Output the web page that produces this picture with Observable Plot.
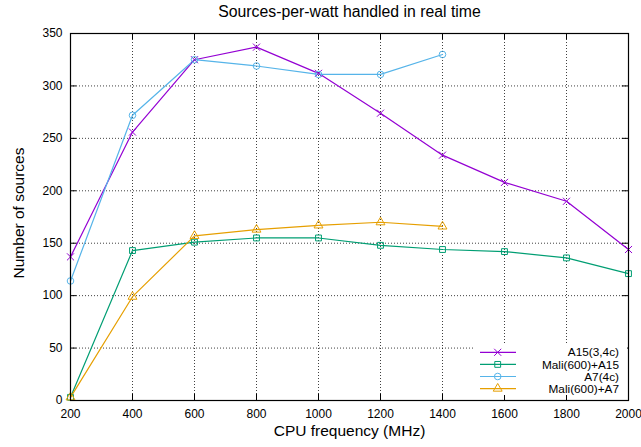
<!DOCTYPE html>
<html><head><meta charset="utf-8">
<script src="https://cdn.jsdelivr.net/npm/d3@7"></script>
<script src="https://cdn.jsdelivr.net/npm/@observablehq/plot@0.6"></script>
<style>body{margin:0;background:#fff;} #chart{position:relative;width:641px;height:447px;}</style>
</head><body><div id="chart"></div>
<script>
const title = "Sources-per-watt handled in real time";
const xLabel = "CPU frequency (MHz)";
const yLabel = "Number of sources";
const xTicks = [200, 400, 600, 800, 1000, 1200, 1400, 1600, 1800, 2000];
const yTicks = [0, 50, 100, 150, 200, 250, 300, 350];

const freqLong = [200, 400, 600, 800, 1000, 1200, 1400, 1600, 1800, 2000];
const freqShort = [200, 400, 600, 800, 1000, 1200, 1400];
const a15 = [137, 256, 325, 337, 312, 274, 234, 208, 190, 144];
const maliA15 = [3, 143, 151, 155, 155, 148, 144, 142, 136, 121];
const a7 = [114, 272, 325, 319, 311, 311, 330];
const maliA7 = [3, 99, 157, 163, 167, 170, 166];

const seriesNames = ["A15(3,4c)", "Mali(600)+A15", "A7(4c)", "Mali(600)+A7"];
const seriesColors = ["#9400d3", "#009e73", "#56b4e9", "#e69f00"];
const seriesSymbols = ["times", "square", "circle", "triangle"];
const seriesX = [freqLong, freqLong, freqShort, freqShort];
const seriesY = [a15, maliA15, a7, maliA7];

const data = [];
seriesNames.forEach((name, i) => {
  seriesX[i].forEach((f, j) => data.push({series: name, freq: f, value: seriesY[i][j]}));
});

const color = {domain: seriesNames, range: seriesColors};
const symbol = {domain: seriesNames, range: seriesSymbols};
const fmt = d => String(d);

const svg = Plot.plot({
  width: 641, height: 447,
  marginLeft: 70, marginRight: 13, marginTop: 33, marginBottom: 47,
  style: {fontFamily: "'Liberation Sans', Arial, sans-serif", fontSize: "12px", background: "#fff", color: "#000"},
  x: {domain: [200, 2000], axis: null},
  y: {domain: [0, 350], axis: null},
  color, symbol,
  marks: [
    Plot.gridX(xTicks.slice(1, -1), {stroke: "#000", strokeOpacity: 0.75, strokeDasharray: "1,2"}),
    Plot.gridY(yTicks.slice(1, -1), {stroke: "#000", strokeOpacity: 0.75, strokeDasharray: "1,2"}),
    Plot.axisX(xTicks, {tickSize: 0, tickPadding: 9, fontSize: 12, label: null, tickFormat: fmt}),
    Plot.axisY(yTicks, {tickSize: 0, tickPadding: 8, fontSize: 12, label: null, tickFormat: fmt}),
    Plot.line(data, {x: "freq", y: "value", z: "series", stroke: "series", strokeWidth: 1.2}),
    Plot.dot(data, {x: "freq", y: "value", stroke: "series", symbol: "series", r: 3.3, strokeWidth: 1, fill: "none"}),
    Plot.ruleX(xTicks, {y1: 0, y2: 6, stroke: "#000", ariaLabel: "ticks"}),
    Plot.ruleX(xTicks, {y1: 344, y2: 350, stroke: "#000", ariaLabel: "ticks"}),
    Plot.ruleY(yTicks, {x1: 200, x2: 220, stroke: "#000", ariaLabel: "ticks"}),
    Plot.ruleY(yTicks, {x1: 1980, x2: 2000, stroke: "#000", ariaLabel: "ticks"}),
    Plot.frame({stroke: "#000", strokeWidth: 1.2}),
    Plot.text([title], {text: d => d, frameAnchor: "top", lineAnchor: "middle", textAnchor: "middle", dy: -21.5, fontSize: 15.8}),
    Plot.text([xLabel], {text: d => d, frameAnchor: "bottom", lineAnchor: "middle", textAnchor: "middle", dy: 31, fontSize: 15.5}),
    Plot.text([yLabel], {text: d => d, frameAnchor: "left", lineAnchor: "middle", textAnchor: "middle", rotate: -90, dx: -51, dy: -4, fontSize: 15.5})
  ]
});
document.getElementById("chart").appendChild(svg);

// legend
const lg = d3.select(svg).append("g").attr("font-family", "'Liberation Sans', Arial, sans-serif").attr("font-size", 11.8);
lg.append("rect").attr("x", 474).attr("y", 343).attr("width", 153).attr("height", 52).attr("fill", "#fff");
const symGen = {times: d3.symbolTimes, square: d3.symbolSquare, circle: d3.symbolCircle, triangle: d3.symbolTriangle};
seriesNames.forEach((name, i) => {
  const y = 352.3 + i * 12.1;
  lg.append("line").attr("x1", 480).attr("x2", 516).attr("y1", y).attr("y2", y).attr("stroke", seriesColors[i]).attr("stroke-width", 1.2);
  lg.append("path").attr("transform", `translate(497.7,${y})`)
    .attr("d", d3.symbol(symGen[seriesSymbols[i]], Math.PI * 3.3 * 3.3)())
    .attr("fill", "none").attr("stroke", seriesColors[i]);
  lg.append("text").attr("x", 619).attr("y", y).attr("dy", "0.35em").attr("text-anchor", "end").text(name);
});
d3.select(svg).selectAll('[aria-label="ticks"], [aria-label="frame"]').raise();
</script></body></html>
